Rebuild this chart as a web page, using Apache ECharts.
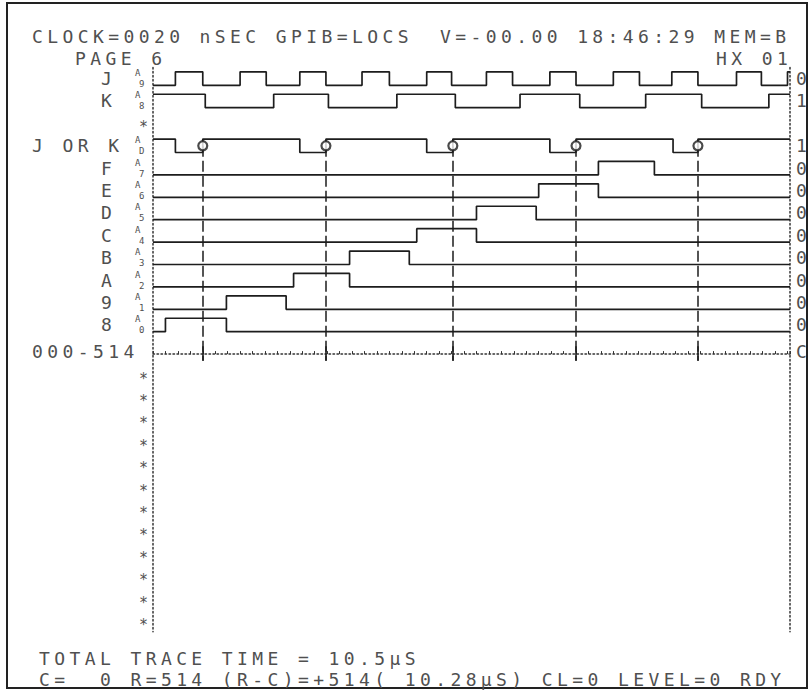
<!DOCTYPE html>
<html><head><meta charset="utf-8">
<script src="https://cdn.jsdelivr.net/npm/echarts/dist/echarts.min.js"></script>
<style>
html,body{margin:0;padding:0;background:#fff;}
#c{width:811px;height:692px;}
#c text{letter-spacing:4.4px;}
</style></head><body><div id="c"></div>
<script>
// ---- data (x in sample units, page shows samples 0..512) ----
const xMax = 512;
const channelNames = ['J', 'K', '*', 'J OR K', 'F', 'E', 'D', 'C', 'B', 'A', '9', '8'];
const channelPods  = ['9', '8', '',  'D',      '7', '6', '5', '4', '3', '2', '1', '0'];
const finalValues  = ['0', '1', '',  '1',      '0', '0', '0', '0', '0', '0', '0', '0'];
const initLevels   = [0, 1, null, 1, 0, 0, 0, 0, 0, 0, 0, 0];
const jEdges    = [18, 40, 70, 91, 118, 139, 168, 190, 220, 240, 268, 289, 319, 340, 370, 391, 417, 438, 469, 489, 510];
const kEdges    = [42, 97, 141, 196, 243, 295, 343, 396, 441, 495];
const jorkEdges = [18, 40, 118, 139, 220, 241, 319, 340, 418, 438];
const fEdges = [358, 403];
const eEdges = [310, 358];
const dEdges = [260, 308];
const cEdges = [212, 260];
const bEdges = [158, 206];
const aEdges = [113, 158];
const n9Edges = [59, 107];
const n8Edges = [10, 59];
const channelEdges = [jEdges, kEdges, null, jorkEdges, fEdges, eEdges, dEdges, cEdges, bEdges, aEdges, n9Edges, n8Edges];
const cursorSamples = [40, 139, 241, 340, 438];
const axisLabel = '000-514';
const axisFinal = 'C';
const blankRows = 12;
const headerLeft = 'CLOCK=0020 nSEC GPIB=LOCS';
const headerRight = 'V=-00.00 18:46:29 MEM=B';
const pageText = 'PAGE 6';
const hxText = 'HX 01';
const footer1 = 'TOTAL TRACE TIME = 10.5\u00b5S';
const footer2 = 'C=  0 R=514 (R-C)=+514( 10.28\u00b5S) CL=0 LEVEL=0 RDY';

// ---- layout ----
const PITCH = 22.4, ROW0 = 85.3, HI = 0.6;
const yMin = -12.8, yMax = 12.4;
const INK = '#1d1d1d', TXT = '#505050';
const FONT = '"DejaVu Sans Mono", monospace';

function rowOf(i) { return i - 12; }
function stepData(init, edges, row) {
  let lvl = init;
  const y = l => (l ? row - HI : row);
  const d = [[0, y(lvl)]];
  edges.forEach(t => { lvl = 1 - lvl; d.push([t, y(lvl)]); });
  d.push([xMax, y(lvl)]);
  return d;
}

const series = [];
channelNames.forEach((n, i) => {
  if (!channelEdges[i]) return;
  series.push({
    type: 'line', step: 'end', showSymbol: false, silent: true, animation: false,
    data: stepData(initLevels[i], channelEdges[i], rowOf(i)),
    lineStyle: { color: INK, width: 1.7 }, z: 3
  });
});
const jorkRow = rowOf(3);
series.push({
  type: 'line', data: [], showSymbol: false, animation: false,
  markLine: {
    symbol: 'none', silent: true, animation: false, label: { show: false },
    lineStyle: { color: INK, width: 1.5, type: [11, 4] },
    data: cursorSamples.map(s => [{ coord: [s, jorkRow - HI / 2] }, { coord: [s, 0.3] }])
  }
});
series.push({
  type: 'line', data: [], showSymbol: false, animation: false,
  markLine: {
    symbol: 'none', silent: true, animation: false, label: { show: false },
    lineStyle: { color: INK, width: 1.6, type: 'solid' },
    data: cursorSamples.map(s => [{ coord: [s, -0.35] }, { coord: [s, 0.3] }])
  }
});
series.push({
  type: 'scatter', animation: false, silent: true, z: 5,
  data: cursorSamples.map(s => [s, jorkRow - HI / 2]),
  symbol: 'circle', symbolSize: 9,
  itemStyle: { color: '#fff', borderColor: INK, borderWidth: 2.2 }
});

const chart = echarts.init(document.getElementById('c'), null, { renderer: 'svg' });
const gridTop = ROW0 + (yMin + 12) * PITCH;
const gridH = (yMax - yMin) * PITCH;
const dotted = { color: '#333', width: 1.5, type: [1.5, 2.5] };
chart.setOption({
  animation: false,
  backgroundColor: '#fff',
  grid: { left: 153, right: 21, top: gridTop, height: gridH },
  xAxis: {
    type: 'value', min: 0, max: xMax, interval: 10,
    axisLine: { onZero: true, lineStyle: dotted },
    axisTick: { show: true, inside: true, length: 3, lineStyle: { color: '#333', width: 1 } },
    axisLabel: { show: false }, splitLine: { show: false }
  },
  yAxis: [
    { type: 'value', inverse: true, min: yMin, max: yMax, axisLine: { show: true, lineStyle: dotted }, axisTick: { show: false }, axisLabel: { show: false }, splitLine: { show: false } },
    { type: 'value', inverse: true, position: 'right', min: yMin, max: yMax, axisLine: { show: true, lineStyle: dotted }, axisTick: { show: false }, axisLabel: { show: false }, splitLine: { show: false } }
  ],
  series
});

function py(v) { return chart.convertToPixel({ yAxisIndex: 0 }, v); }
const tstyle = (txt, size, align) => ({ text: txt, fill: TXT, font: size + 'px ' + FONT, textAlign: align || 'left', textVerticalAlign: 'middle' });
const g = [];
g.push({ type: 'rect', shape: { x: 7, y: 3, width: 800, height: 685 }, style: { fill: 'none', stroke: '#222', lineWidth: 2 }, silent: true });
g.push({ type: 'text', x: 32, y: 36, style: tstyle(headerLeft, 18) });
g.push({ type: 'text', x: 440, y: 36, style: tstyle(headerRight, 18) });
g.push({ type: 'text', x: 75, y: 58, style: tstyle(pageText, 18) });
g.push({ type: 'text', x: 716, y: 58, style: tstyle(hxText, 18) });
channelNames.forEach((n, i) => {
  const r = rowOf(i);
  const mid = py(r - HI / 2);
  if (n === '*') {
    g.push({ type: 'text', x: 139, y: py(r) - 3, style: tstyle('*', 15) });
    return;
  }
  if (n.length > 1) g.push({ type: 'text', x: 32, y: mid, style: tstyle(n, 18) });
  else g.push({ type: 'text', x: 101, y: mid, style: tstyle(n, 18) });
  g.push({ type: 'text', x: 135, y: mid - 5.5, style: tstyle('A', 9) });
  g.push({ type: 'text', x: 139, y: mid + 5.5, style: tstyle(channelPods[i], 9) });
  g.push({ type: 'text', x: 796, y: mid, style: tstyle(finalValues[i], 18) });
});
g.push({ type: 'text', x: 32, y: py(0) - 3, style: tstyle(axisLabel, 18) });
g.push({ type: 'text', x: 796, y: py(0) - 3, style: tstyle(axisFinal, 18) });
for (let k = 1; k <= blankRows; k++) {
  g.push({ type: 'text', x: 139, y: py(k) + 2, style: tstyle('*', 15) });
}
g.push({ type: 'text', x: 39, y: 658, style: tstyle(footer1, 18) });
g.push({ type: 'text', x: 39, y: 679, style: tstyle(footer2, 18) });
chart.setOption({ graphic: { elements: g } });
</script></body></html>
